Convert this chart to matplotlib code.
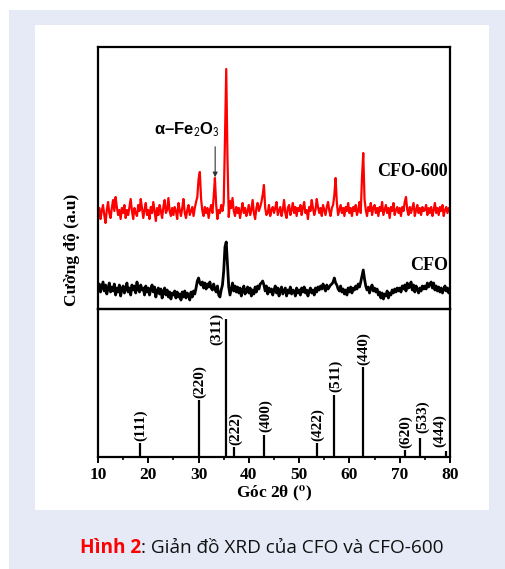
import matplotlib
matplotlib.use('Agg')
import matplotlib.pyplot as plt
from matplotlib.patches import Rectangle
import numpy as np

# 2theta grid, 0.25 deg step from 10 to 80
two_theta = np.linspace(10, 80, 281)

# CFO-600 (red), a.u.
cfo600 = [
    93, 101, 90, 98, 104, 94, 86, 99, 107, 96, 91, 101, 109, 98, 112, 102, 94, 99, 90, 101,
    96, 104, 91, 99, 94, 102, 110, 98, 90, 101, 96, 93, 104, 98, 110, 101, 91, 99, 106, 94,
    99, 90, 102, 96, 107, 98, 88, 101, 94, 104, 98, 91, 102, 109, 96, 99, 111, 98, 93, 101,
    94, 102, 98, 90, 106, 99, 93, 101, 110, 96, 91, 99, 104, 94, 98, 102, 93, 101, 107, 112,
    130, 137, 110, 98, 93, 102, 96, 101, 91, 99, 104, 96, 112, 131, 104, 90, 99, 96, 104, 98,
    106, 170, 240, 150, 92, 108, 101, 111, 98, 93, 102, 96, 101, 91, 99, 106, 96, 101, 93, 98,
    104, 94, 99, 109, 96, 90, 101, 106, 98, 102, 107, 114, 124, 101, 94, 96, 104, 93, 99, 102,
    96, 101, 107, 94, 98, 102, 93, 99, 109, 96, 91, 101, 104, 94, 99, 106, 96, 102, 93, 101,
    98, 104, 94, 101, 107, 96, 99, 90, 102, 98, 109, 101, 94, 99, 110, 102, 96, 101, 93, 104,
    99, 94, 102, 107, 98, 93, 101, 104, 114, 131, 106, 94, 99, 104, 96, 101, 93, 102, 98, 106,
    96, 101, 93, 102, 98, 104, 94, 99, 107, 96, 132, 156, 110, 99, 93, 102, 98, 106, 94, 101,
    104, 96, 101, 93, 102, 98, 107, 94, 99, 104, 96, 101, 91, 102, 98, 106, 94, 99, 102, 96,
    101, 93, 102, 98, 107, 112, 99, 94, 102, 96, 101, 106, 93, 99, 104, 96, 101, 94, 102, 98,
    99, 104, 94, 101, 96, 102, 93, 99, 106, 96, 101, 94, 102, 98, 104, 93, 99, 102, 96, 101,
    98,
]

# CFO (black)
cfo = [
    20, 25, 17, 22, 27, 18, 24, 15, 21, 26, 17, 22, 18, 25, 14, 21, 17, 24, 13, 20,
    23, 16, 20, 26, 17, 21, 14, 24, 19, 23, 16, 27, 20, 17, 24, 19, 21, 14, 23, 17,
    21, 14, 20, 24, 17, 22, 12, 18, 21, 15, 20, 11, 17, 21, 14, 19, 12, 17, 10, 16,
    14, 18, 11, 17, 12, 15, 9, 17, 12, 18, 11, 16, 14, 9, 17, 12, 18, 15, 21, 28,
    31, 26, 24, 27, 21, 26, 20, 25, 22, 27, 21, 19, 25, 20, 17, 23, 14, 12, 19, 24,
    38, 62, 67, 45, 22, 14, 20, 26, 18, 23, 17, 22, 16, 21, 13, 19, 23, 15, 18, 22,
    16, 21, 13, 19, 15, 22, 17, 23, 20, 25, 26, 28, 24, 18, 23, 15, 21, 17, 20, 14,
    19, 23, 16, 21, 13, 19, 22, 15, 18, 21, 13, 19, 16, 22, 15, 19, 18, 13, 21, 16,
    19, 14, 21, 17, 22, 16, 19, 13, 18, 21, 16, 19, 14, 21, 17, 22, 19, 23, 20, 25,
    21, 18, 24, 20, 22, 24, 25, 27, 31, 26, 24, 20, 18, 23, 17, 20, 15, 19, 14, 21,
    17, 22, 16, 21, 19, 23, 20, 25, 22, 27, 33, 39, 30, 23, 19, 22, 16, 21, 24, 18,
    21, 17, 20, 14, 17, 11, 16, 10, 15, 13, 18, 11, 16, 14, 19, 16, 20, 17, 21, 18,
    21, 17, 23, 20, 24, 18, 26, 21, 22, 27, 19, 24, 17, 23, 20, 16, 21, 18, 23, 20,
    23, 20, 26, 22, 25, 27, 21, 26, 19, 23, 18, 22, 17, 21, 16, 20, 23, 18, 21, 16,
    20,
]

# reference pattern (spinel CoFe2O4)
ref_pos = [18.3, 30.1, 35.5, 37.1, 43.1, 53.5, 57.0, 62.6, 71.0, 74.1, 79.2]
ref_int = [10, 41, 100, 7, 16, 10, 45, 65, 5, 14, 4]
ref_hkl = ['(111)', '(220)', '(311)', '(222)', '(400)', '(422)', '(511)', '(440)',
           '(620)', '(533)', '(444)']

serif = 'Liberation Serif'
plt.rcParams['mathtext.fontset'] = 'stix'

fig = plt.figure(figsize=(5.05, 5.69), dpi=100)
W, H = 505, 569

def px_rect(x0, y0, x1, y1, color):
    fig.patches.append(Rectangle((x0 / W, 1 - y1 / H), (x1 - x0) / W, (y1 - y0) / H,
                                 transform=fig.transFigure, facecolor=color,
                                 edgecolor='none', zorder=-10))

px_rect(9, 10, 505, 569, '#e6eaf6')
px_rect(35, 25, 489, 510, 'white')

ax1 = fig.add_axes([98 / W, 1 - 309 / H, 352 / W, 262 / H])
ax2 = fig.add_axes([98 / W, 1 - 457 / H, 352 / W, 148 / H])

for ax in (ax1, ax2):
    ax.set_facecolor('none')
    for s in ax.spines.values():
        s.set_linewidth(1.6)
    ax.set_xlim(10, 80)

ax1.plot(two_theta, cfo600, color='#ff0000', lw=1.6)
ax1.plot(two_theta, cfo, color='black', lw=2.0)
ax1.set_ylim(0, 262)
ax1.set_xticks([])
ax1.set_yticks([])

ax1.text(79.6, 137, 'CFO-600', ha='right', va='center', fontsize=13,
         fontweight='bold', family=serif)
ax1.text(79.6, 44, 'CFO', ha='right', va='center', fontsize=13,
         fontweight='bold', family=serif)
ax1.text(27.8, 179, r'α–Fe$_{\mathsf{2}}$O$_{\mathsf{3}}$', ha='center', va='center',
         fontsize=12, fontweight='bold', family='Liberation Sans')
ax1.annotate('', xy=(33.3, 129), xytext=(33.3, 165),
             arrowprops=dict(arrowstyle='-|>', color='#333333', lw=0.8,
                             mutation_scale=7))

ax2.vlines(ref_pos, 0, ref_int, color='black', lw=1.6)
ax2.set_ylim(0, 107)
ax2.set_yticks([])
ax2.set_xticks(np.arange(10, 81, 10))
ax2.set_xticks(np.arange(15, 80, 10), minor=True)
ax2.tick_params(axis='x', which='major', direction='out', length=4, width=1.4, pad=3)
ax2.tick_params(axis='x', which='minor', direction='out', length=2.5, width=1.2)
for lab in ax2.get_xticklabels():
    lab.set_fontfamily(serif)
    lab.set_fontweight('bold')
    lab.set_fontsize(12.5)

special = {'(311)': (33.5, 104.5, 'top'), '(533)': (74.6, 17.2, 'bottom'),
           '(444)': (78.0, 7.0, 'bottom')}
for pos, val, hkl in zip(ref_pos, ref_int, ref_hkl):
    x, y, va = special.get(hkl, (pos + 0.2, val + 1.8, 'bottom'))
    ax2.text(x, y, hkl, rotation=90, ha='center', va=va, fontsize=11,
             fontweight='bold', family=serif)

ax2.set_xlabel(r'Góc 2θ ($^{\mathbf{o}}$)', fontsize=12.5, fontweight='bold',
               family=serif, labelpad=1)

fig.text(72 / W, 1 - 250 / H, 'Cường độ (a.u)', rotation=90, ha='center',
         va='center', fontsize=12.5, fontweight='bold', family=serif)

cap = fig.text(80 / W, 1 - 548 / H, 'Hình 2', color='#ff0000', fontweight='bold',
               fontsize=13.7, family='Open Sans', va='center', ha='left')
plt.annotate(': Giản đồ XRD của CFO và CFO-600', xy=(1, 0.5), xycoords=cap,
             ha='left', va='center', fontsize=13.7, family='Open Sans',
             color='#111111', annotation_clip=False)

fig.savefig('out.png', dpi=100)
